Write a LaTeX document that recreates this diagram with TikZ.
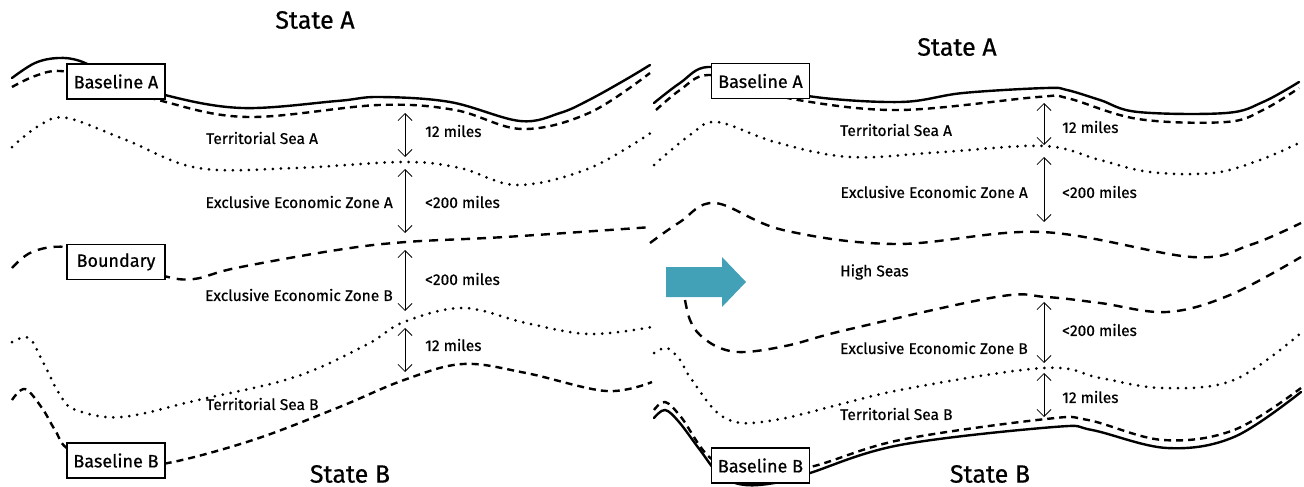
\documentclass[tikz,border=0pt]{standalone}
\usepackage{fontspec}
\setmainfont{Fira Sans}
\newfontfamily\lblfont[FakeBold=0.6]{Fira Sans}
\usetikzlibrary{arrows.meta}
\definecolor{teal1}{RGB}{66,161,183}
\begin{document}
\begin{tikzpicture}[x=1pt,y=-1pt,
  coast/.style={line width=2.4pt, line cap=round},
  basel/.style={line width=2.4pt, dash pattern=on 7pt off 5pt},
  outer/.style={line width=3pt, line cap=round, dash pattern=on 0pt off 8pt},
  limit/.style={line width=2.4pt, dash pattern=on 9pt off 7pt},
  lbl/.style={font=\lblfont\fontsize{15.5}{18}\selectfont, inner sep=0pt},
  box/.style={draw, fill=white, line width=1.1pt, font=\lblfont\fontsize{18}{20}\selectfont, minimum width=98pt, minimum height=35pt, inner sep=0pt},
  meas/.style={line width=0.8pt, {Straight Barb[length=7pt,width=14pt]}-{Straight Barb[length=7pt,width=14pt]}},
  ttl/.style={font=\lblfont\fontsize{25}{28}\selectfont, inner sep=0pt}]
\useasboundingbox (0,0) rectangle (1304,487);

% ---------- left panel ----------
\draw[coast] plot[smooth, tension=0.6] coordinates {(12,78) (35,63) (58,58) (80,61) (110,75) (165,95) (242,108) (337,101) (379,97) (450,102) (520,121) (560,113) (589,100) (625,80) (650,65)};
\draw[basel] plot[smooth, tension=0.6] coordinates {(12,87) (35,76) (60,71) (100,80) (162,101) (248,117) (379,105) (455,110) (522,129) (589,113) (650,73)};
\draw[outer] plot[smooth, tension=0.6] coordinates {(12,147) (40,125) (67,118) (126,140) (198,168) (295,168) (404,162) (460,168) (518,185) (590,168) (652,132)};
\draw[limit] plot[smooth, tension=0.6] coordinates {(12,268) (32,252) (66,247) (120,260) (164,276) (194,279) (236,268) (337,250) (406,242) (505,237) (652,227)};
\draw[outer] plot[smooth, tension=0.6] coordinates {(12,342) (29,338) (42,360) (60,395) (76,410) (122,417) (198,400) (295,377) (366,345) (404,322) (463,308) (526,323) (589,334) (652,327)};
\draw[basel] plot[smooth, tension=0.6] coordinates {(12,400) (25,389) (42,408) (55,430) (70,450) (120,465) (168,463) (253,440) (337,408) (404,380) (463,364) (526,373) (606,391) (652,382)};

\node[box] (blA) at (116,81.5) {Baseline A};
\node[box] (bnd) at (116,262) {Boundary};
\node[box] (blB) at (116,460.5) {Baseline B};

\node[ttl] (stA) at (315,20) {State A};
\node[ttl] (stB) at (350,474) {State B};

\coordinate (l1t) at (405,113); \coordinate (l1b) at (405,157);
\coordinate (l2t) at (405,169); \coordinate (l2b) at (405,233);
\coordinate (l3t) at (405,250); \coordinate (l3b) at (405,311);
\coordinate (l4t) at (405,328); \coordinate (l4b) at (405,372);
\draw[meas] (l1t) -- (l1b);
\draw[meas] (l2t) -- (l2b);
\draw[meas] (l3t) -- (l3b);
\draw[meas] (l4t) -- (l4b);

\node[lbl, anchor=west] (tsA) at (206,138) {Territorial Sea A};
\node[lbl, anchor=west] (m1) at (425,131) {12 miles};
\node[lbl, anchor=east] (eA) at (393,202) {Exclusive Economic Zone A};
\node[lbl, anchor=west] (m2) at (425,202) {<200 miles};
\node[lbl, anchor=west] (m3) at (425,279) {<200 miles};
\node[lbl, anchor=east] (eB) at (393,295) {Exclusive Economic Zone B};
\node[lbl, anchor=west] (m4) at (425,345) {12 miles};
\node[lbl, anchor=west] (tsB) at (206,404) {Territorial Sea B};

% ---------- arrow ----------
\fill[teal1] (666,267) -- (722,267) -- (722,257) -- (746,282) -- (722,307) -- (722,297) -- (666,297) -- cycle;

% ---------- right panel ----------
\draw[coast] plot[smooth, tension=0.6] coordinates {(654,103) (680,83) (708,67) (760,80) (808,96) (900,102) (963,93) (1046,88) (1067,90) (1100,100) (1138,112) (1226,113) (1263,102) (1299,82)};
\draw[basel] plot[smooth, tension=0.6] coordinates {(656,110) (680,90) (708,75) (760,88) (798,100) (900,110) (1038,97) (1067,98) (1138,119) (1226,122) (1263,110) (1299,88)};
\draw[outer] plot[smooth, tension=0.6] coordinates {(654,165) (690,135) (717,122) (775,142) (850,157) (942,152) (1044,146) (1100,160) (1150,172) (1213,173) (1260,160) (1301,142)};
\draw[limit] plot[smooth, tension=0.6] coordinates {(650,243) (680,222) (715,203) (783,230) (896,244) (1042,232) (1192,257) (1250,245) (1301,223)};
\draw[limit] plot[smooth, tension=0.6] coordinates {(685,300) (690,320) (700,335) (720,348) (745,352) (790,345) (846,330) (996,297) (1046,297) (1100,303) (1167,312) (1230,295) (1301,257)};
\draw[outer] plot[smooth, tension=0.6] coordinates {(654,353) (667,348) (680,360) (692,380) (725,418) (775,420) (900,390) (1044,368) (1100,378) (1163,388) (1234,380) (1301,333)};
\draw[basel] plot[smooth, tension=0.6] coordinates {(654,410) (665,402) (681,417) (713,460) (760,470) (810,467) (900,440) (1046,419) (1088,420) (1163,440) (1234,430) (1301,388)};
\draw[coast] plot[smooth, tension=0.6] coordinates {(654,418) (665,410) (679,422) (700,450) (720,475) (745,485) (780,482) (810,473) (900,445) (1054,427) (1092,430) (1167,448) (1234,437) (1301,392)};

\node[box] (rblA) at (760.5,81) {Baseline A};
\node[box] (rblB) at (760.5,465.5) {Baseline B};

\node[ttl] (rstA) at (957,47) {State A};
\node[ttl] (rstB) at (990,474) {State B};

\coordinate (r1t) at (1044,103); \coordinate (r1b) at (1044,145);
\coordinate (r2t) at (1044,157); \coordinate (r2b) at (1044,222);
\coordinate (r3t) at (1044,302); \coordinate (r3b) at (1044,363);
\coordinate (r4t) at (1044,373); \coordinate (r4b) at (1044,417);
\draw[meas] (r1t) -- (r1b);
\draw[meas] (r2t) -- (r2b);
\draw[meas] (r3t) -- (r3b);
\draw[meas] (r4t) -- (r4b);

\node[lbl, anchor=west] (rtsA) at (840,130) {Territorial Sea A};
\node[lbl, anchor=west] (rm1) at (1062,127) {12 miles};
\node[lbl, anchor=east] (reA) at (1028,192) {Exclusive Economic Zone A};
\node[lbl, anchor=west] (rm2) at (1062,192) {<200 miles};
\node[lbl, anchor=west] (hs) at (840,272) {High Seas};
\node[lbl, anchor=west] (rm3) at (1062,330) {<200 miles};
\node[lbl, anchor=east] (reB) at (1028,348) {Exclusive Economic Zone B};
\node[lbl, anchor=west] (rm4) at (1062,397) {12 miles};
\node[lbl, anchor=west] (rtsB) at (840,414) {Territorial Sea B};
\end{tikzpicture}
\end{document}
